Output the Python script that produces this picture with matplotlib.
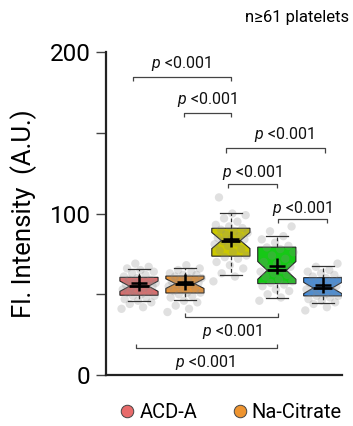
import matplotlib
matplotlib.use("Agg")
import matplotlib.pyplot as plt
from matplotlib.lines import Line2D
import numpy as np

plt.rcParams["font.family"] = ["Roboto", "DejaVu Sans"]
plt.rcParams["mathtext.fontset"] = "custom"
plt.rcParams["mathtext.it"] = "Roboto:italic"
plt.rcParams["mathtext.rm"] = "Roboto"

# groups (only the first two are named in the visible legend)
groups = ["ACD-A", "Na-Citrate", "G3", "G4", "G5"]
colors = ["#e86b6b", "#ee9430", "#ccc800", "#16c816", "#3f8fe6"]

# box statistics
q1 = [49.4, 50.8, 73.6, 56.6, 49.0]
med = [55.0, 56.6, 83.3, 64.8, 53.9]
q3 = [60.5, 61.3, 90.9, 79.2, 60.3]
whislo = [45.7, 46.7, 61.7, 47.7, 44.3]
whishi = [65.4, 66.2, 100.2, 86.4, 67.5]
means = [56.8, 57.4, 84.0, 67.5, 56.0]
notch_half = [3.2, 3.0, 5.0, 5.5, 3.5]

# individual platelets (approximate, read from the dot clouds)
pts_acd = [41, 42, 44, 45, 46, 47, 48, 49, 49, 50, 51, 52, 52, 53, 54, 54, 55, 55,
           56, 56, 57, 57, 58, 59, 59, 60, 61, 62, 63, 64, 65, 66, 67, 69]
pts_nac = [39, 41, 43, 45, 46, 48, 49, 50, 51, 51, 52, 53, 54, 55, 56, 56, 57, 57,
           58, 58, 59, 60, 60, 61, 62, 62, 63, 64, 65, 66, 68]
pts_g3 = [58, 61, 63, 66, 68, 70, 72, 73, 74, 76, 77, 78, 80, 81, 82, 83, 84, 84,
          85, 86, 87, 88, 89, 90, 91, 92, 93, 95, 97, 99, 100, 110]
pts_g4 = [46, 48, 50, 52, 53, 55, 56, 57, 58, 59, 61, 62, 63, 64, 65, 66, 67, 69,
          70, 72, 74, 76, 78, 79, 80, 82, 84, 86, 89, 92]
pts_g5 = [40, 42, 44, 45, 46, 47, 48, 49, 49, 50, 51, 52, 52, 53, 54, 54, 55, 56,
          57, 58, 58, 59, 60, 61, 62, 63, 64, 65, 67, 69]
points = [pts_acd, pts_nac, pts_g3, pts_g4, pts_g5]

p_label = "$\\it{p}$ <0.001"
# brackets: (x0, x1, y, text x, text baseline y, tick direction)
brackets = [
    (-0.13, 2.0, 184.3, 0.92, 190.0, -1),
    (0.97, 2.0, 162.0, 1.48, 168.0, -1),
    (1.90, 4.04, 140.3, 3.15, 146.0, -1),
    (1.93, 3.0, 118.6, 2.45, 122.5, -1),
    (3.02, 4.09, 96.5, 3.55, 100.5, -1),
    (1.01, 3.02, 36.1, 2.03, 24.3, 1),
    (-0.07, 3.01, 16.9, 1.44, 5.0, 1),
]

fig = plt.figure(figsize=(3.53, 4.26), dpi=100)
ax = fig.add_axes([0.300, 0.1197, 0.669, 0.758])

stats = []
for i in range(len(groups)):
    stats.append(dict(med=med[i], q1=q1[i], q3=q3[i], whislo=whislo[i], whishi=whishi[i],
                      mean=means[i], cilo=med[i] - notch_half[i], cihi=med[i] + notch_half[i],
                      fliers=[]))

pos = np.arange(len(groups))
bp = ax.bxp(stats, positions=pos, widths=0.83, shownotches=True, showmeans=True,
            patch_artist=True, showfliers=False, capwidths=0.48,
            boxprops=dict(edgecolor="#222222", linewidth=0.8),
            medianprops=dict(color="black", linewidth=2.0),
            meanprops=dict(marker="+", markeredgecolor="black", markersize=12, markeredgewidth=1.8),
            whiskerprops=dict(color="#333333", linestyle=(0, (3, 2)), linewidth=0.9),
            capprops=dict(color="#333333", linewidth=0.9))
for patch, c in zip(bp["boxes"], colors):
    patch.set_facecolor(c)
    patch.set_zorder(2)
for key in ["medians", "means", "whiskers", "caps"]:
    for a in bp[key]:
        a.set_zorder(4)

# platelet dots, spread sideways with a fixed low-discrepancy pattern
for i, vals in enumerate(points):
    n = len(vals)
    offs = ((np.arange(n) * 0.6180339) % 1.0 - 0.5) * 0.76
    ax.scatter(pos[i] + offs, vals, s=36, color="#888888", alpha=0.26,
               edgecolors="none", zorder=3)

for x0, x1, y, tx, ty, d in brackets:
    t = 2.5 * d
    ax.plot([x0, x0, x1, x1], [y + t, y, y, y + t], color="#444444", lw=0.9,
            solid_capstyle="butt", zorder=5, clip_on=False)
    ax.text(tx, ty, p_label, ha="center", va="baseline", fontsize=11.5, color="#111111")

ax.set_xlim(-0.72, 4.42)
ax.set_ylim(0, 200)
ax.set_yticks([0, 50, 100, 150, 200])
ax.set_yticklabels(["0", "", "100", "", "200"])
ax.set_xticks([])
ax.tick_params(axis="y", labelsize=17.5, length=7, width=1.0, color="#444444", pad=4)
for s in ["top", "right"]:
    ax.spines[s].set_visible(False)
ax.spines["left"].set_linewidth(1.6)
ax.spines["bottom"].set_linewidth(1.6)
ax.spines["left"].set_color("#222222")
ax.spines["bottom"].set_color("#222222")
ax.set_ylabel("Fl. Intensity  (A.U.)", fontsize=18.5, labelpad=9)

fig.text(0.988, 0.958, "n\u226561 platelets", ha="right", va="center", fontsize=12)

handles = [Line2D([], [], marker="o", linestyle="none", markersize=9,
                  markerfacecolor=colors[i], markeredgecolor="#444444",
                  markeredgewidth=0.7, label=groups[i]) for i in range(2)]
fig.legend(handles=handles, loc="center", bbox_to_anchor=(0.65, 0.031), ncol=2,
           frameon=False, fontsize=14.5, handletextpad=0.1, columnspacing=1.6,
           handlelength=1.0)

fig.savefig("out.png", dpi=100)
